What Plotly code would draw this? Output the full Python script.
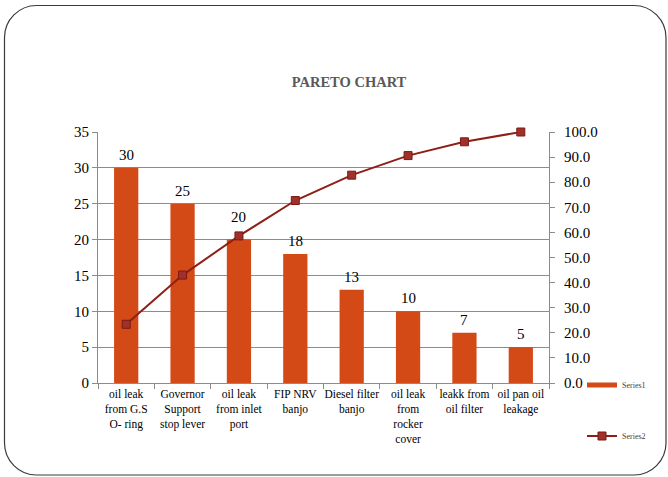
import plotly.graph_objects as go

categories = [
    "oil leak<br>from G.S<br>O- ring",
    "Governor<br>Support<br>stop lever",
    "oil leak<br>from inlet<br>port",
    "FIP NRV<br>banjo",
    "Diesel filter<br>banjo",
    "oil leak<br>from<br>rocker<br>cover",
    "leakk from<br>oil filter",
    "oil pan oil<br>leakage",
]
counts = [30, 25, 20, 18, 13, 10, 7, 5]
cumulative_pct = [23.4, 43.0, 58.6, 72.7, 82.8, 90.6, 96.1, 100.0]

W, H = 668, 477
L, R, T, B = 98, 119, 132, 94
PW, PH = W - L - R, H - T - B

FONT = "Liberation Serif, Times New Roman, serif"
BAR_COLOR = "#D34A17"
LINE_COLOR = "#8E1F16"

fig = go.Figure()
fig.add_trace(go.Bar(
    x=categories, y=counts, name="Series1",
    marker=dict(color=BAR_COLOR, line=dict(width=0)),
    width=0.43, showlegend=False,
))
# legend proxy for Series1 (flat rectangle like the original)
fig.add_trace(go.Scatter(
    x=[None], y=[None], name="Series1", mode="lines",
    line=dict(color=BAR_COLOR, width=5), legend="legend",
))
fig.add_trace(go.Scatter(
    x=categories, y=cumulative_pct, name="Series2", yaxis="y2",
    mode="lines+markers", cliponaxis=False,
    line=dict(color=LINE_COLOR, width=2),
    marker=dict(symbol="square", size=8, color="#A0302A", line=dict(color="#7A1A14", width=1)),
    legend="legend2",
))

annotations = []
for c, v, p in zip(categories, counts, cumulative_pct):
    bar_top_px = v / 35 * PH
    marker_px = p / 100 * PH
    clash = 0 <= marker_px - bar_top_px < 20
    annotations.append(dict(
        x=c, y=v, xref="x", yref="y", text=str(v), showarrow=False,
        yanchor="bottom", yshift=13 if clash else 3,
        font=dict(family=FONT, size=15, color="#000000")))

def px_x(px):
    return (px - L) / PW

def px_y(py):
    return (H - B - py) / PH

# rounded frame
x0, y0, x1, y1, r = 4.5, 5.5, 666, 475, 32
k = 0.45
path = (
    f"M {px_x(x0+r)},{px_y(y0)} L {px_x(x1-r)},{px_y(y0)} "
    f"C {px_x(x1-r*k)},{px_y(y0)} {px_x(x1)},{px_y(y0+r*k)} {px_x(x1)},{px_y(y0+r)} "
    f"L {px_x(x1)},{px_y(y1-r)} "
    f"C {px_x(x1)},{px_y(y1-r*k)} {px_x(x1-r*k)},{px_y(y1)} {px_x(x1-r)},{px_y(y1)} "
    f"L {px_x(x0+r)},{px_y(y1)} "
    f"C {px_x(x0+r*k)},{px_y(y1)} {px_x(x0)},{px_y(y1-r*k)} {px_x(x0)},{px_y(y1-r)} "
    f"L {px_x(x0)},{px_y(y0+r)} "
    f"C {px_x(x0)},{px_y(y0+r*k)} {px_x(x0+r*k)},{px_y(y0)} {px_x(x0+r)},{px_y(y0)} Z"
)

fig.update_layout(
    width=W, height=H,
    margin=dict(l=L, r=R, t=T, b=B, autoexpand=False),
    paper_bgcolor="white", plot_bgcolor="white",
    font=dict(family=FONT, color="#000000"),
    title=dict(text="<b>PARETO CHART</b>", x=(349 / W), xanchor="center",
               y=1 - 82 / H, yanchor="middle", xref="container",
               font=dict(family=FONT, size=14.5, color="#595959")),
    xaxis=dict(
        showline=True, linecolor="#8C8C8C", linewidth=1,
        ticks="outside", ticklen=5, tickcolor="#8C8C8C", tickson="boundaries",
        tickfont=dict(family=FONT, size=11.5, color="#000000"),
        showgrid=False, tickangle=0,
    ),
    yaxis=dict(
        range=[0, 35], dtick=5, showgrid=True, gridcolor="#8C8C8C", gridwidth=1,
        showline=True, linecolor="#8C8C8C", ticks="outside", ticklen=5, tickcolor="#8C8C8C",
        tickfont=dict(family=FONT, size=15, color="#000000"), zeroline=False,
    ),
    yaxis2=dict(
        range=[0, 100], dtick=10, tickformat=".1f", overlaying="y", side="right",
        showgrid=False, showline=True, linecolor="#8C8C8C",
        ticks="outside", ticklen=5, tickcolor="#8C8C8C", ticklabelstandoff=6,
        tickfont=dict(family=FONT, size=15, color="#000000"), zeroline=False,
    ),
    legend=dict(x=px_x(582), y=px_y(385), xanchor="left", yanchor="middle",
                font=dict(family=FONT, size=8, color="#404040"), bgcolor="rgba(0,0,0,0)",
                itemwidth=30),
    legend2=dict(x=px_x(582), y=px_y(436), xanchor="left", yanchor="middle",
                 font=dict(family=FONT, size=8, color="#404040"), bgcolor="rgba(0,0,0,0)",
                 itemwidth=30),
    showlegend=True,
    annotations=annotations,
    shapes=[dict(type="path", xref="paper", yref="paper", path=path,
                 line=dict(color="#3A3A3A", width=1.2), fillcolor="rgba(0,0,0,0)", layer="below")],
)

fig.write_html("out.html")
